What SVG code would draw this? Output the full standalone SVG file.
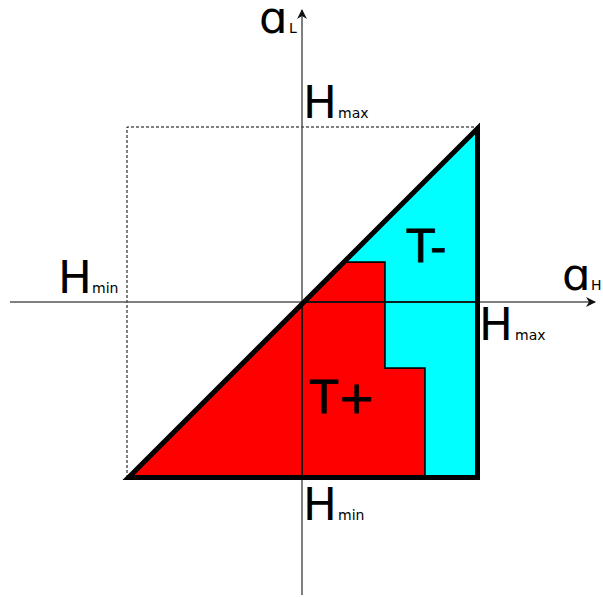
<svg xmlns="http://www.w3.org/2000/svg" width="603" height="597" viewBox="0 0 603 597">
<style>
.big{font-family:"DejaVu Sans",Verdana,sans-serif;font-size:45px;fill:#000}
.sub{font-family:"DejaVu Sans",Verdana,sans-serif;font-size:14px;fill:#000}
.axis{stroke:#555;stroke-width:1.5;fill:none}
</style>
<defs>
<marker id="arr" viewBox="0 0 10 10" refX="9" refY="5" markerWidth="10" markerHeight="10" markerUnits="userSpaceOnUse" orient="auto">
<path d="M0,0 L10,5 L0,10 L3,5 Z" fill="#111"/>
</marker>
</defs>
<g id="region-plus">
<polygon points="128.5,477.5 344,262 385,262 385,368 425,368 425,477.5" fill="#ff0000" stroke="#000" stroke-width="1.5"/>
</g>
<g id="region-minus">
<polygon points="344,262 477.5,128.5 477.5,477.5 425,477.5 425,368 385,368 385,262" fill="#00ffff" stroke="#000" stroke-width="1.5"/>
</g>
<g id="connectors">
<path d="M127,478 V127 H478" fill="none" stroke="#000" stroke-width="1" stroke-dasharray="3,2"/>
<line class="axis" x1="10" y1="302" x2="595" y2="302" marker-end="url(#arr)"/>
<line class="axis" x1="302" y1="595" x2="302" y2="10" marker-end="url(#arr)"/>
<line x1="302" y1="302" x2="478" y2="302" stroke="#000" stroke-width="1.5"/>
<line x1="302" y1="302" x2="302" y2="478" stroke="#000" stroke-width="1.5"/>
</g>
<g id="triangle">
<polygon points="128.5,477.5 477.5,128.5 477.5,477.5" fill="none" stroke="#000" stroke-width="5" stroke-linejoin="miter"/>
</g>
<g id="labels">
<text class="big" x="259" y="33" font-size="40">ɑ</text><text class="sub" x="289" y="33" font-size="11">L</text>
<text class="big" x="562" y="290" font-size="40">ɑ</text><text class="sub" x="591" y="290" font-size="11">H</text>
<text class="big" x="303" y="118">H</text><text class="sub" x="338" y="118">max</text>
<text class="big" x="479" y="340">H</text><text class="sub" x="515" y="340">max</text>
<text class="big" x="58" y="293">H</text><text class="sub" x="92" y="293">min</text>
<text class="big" x="303" y="520">H</text><text class="sub" x="338" y="520">min</text>
<text class="big" x="407" y="262" font-size="46" stroke="#000" stroke-width="0.8">T-</text>
<text class="big" x="310" y="413" font-size="46" stroke="#000" stroke-width="0.8">T+</text>
</g>
</svg>
